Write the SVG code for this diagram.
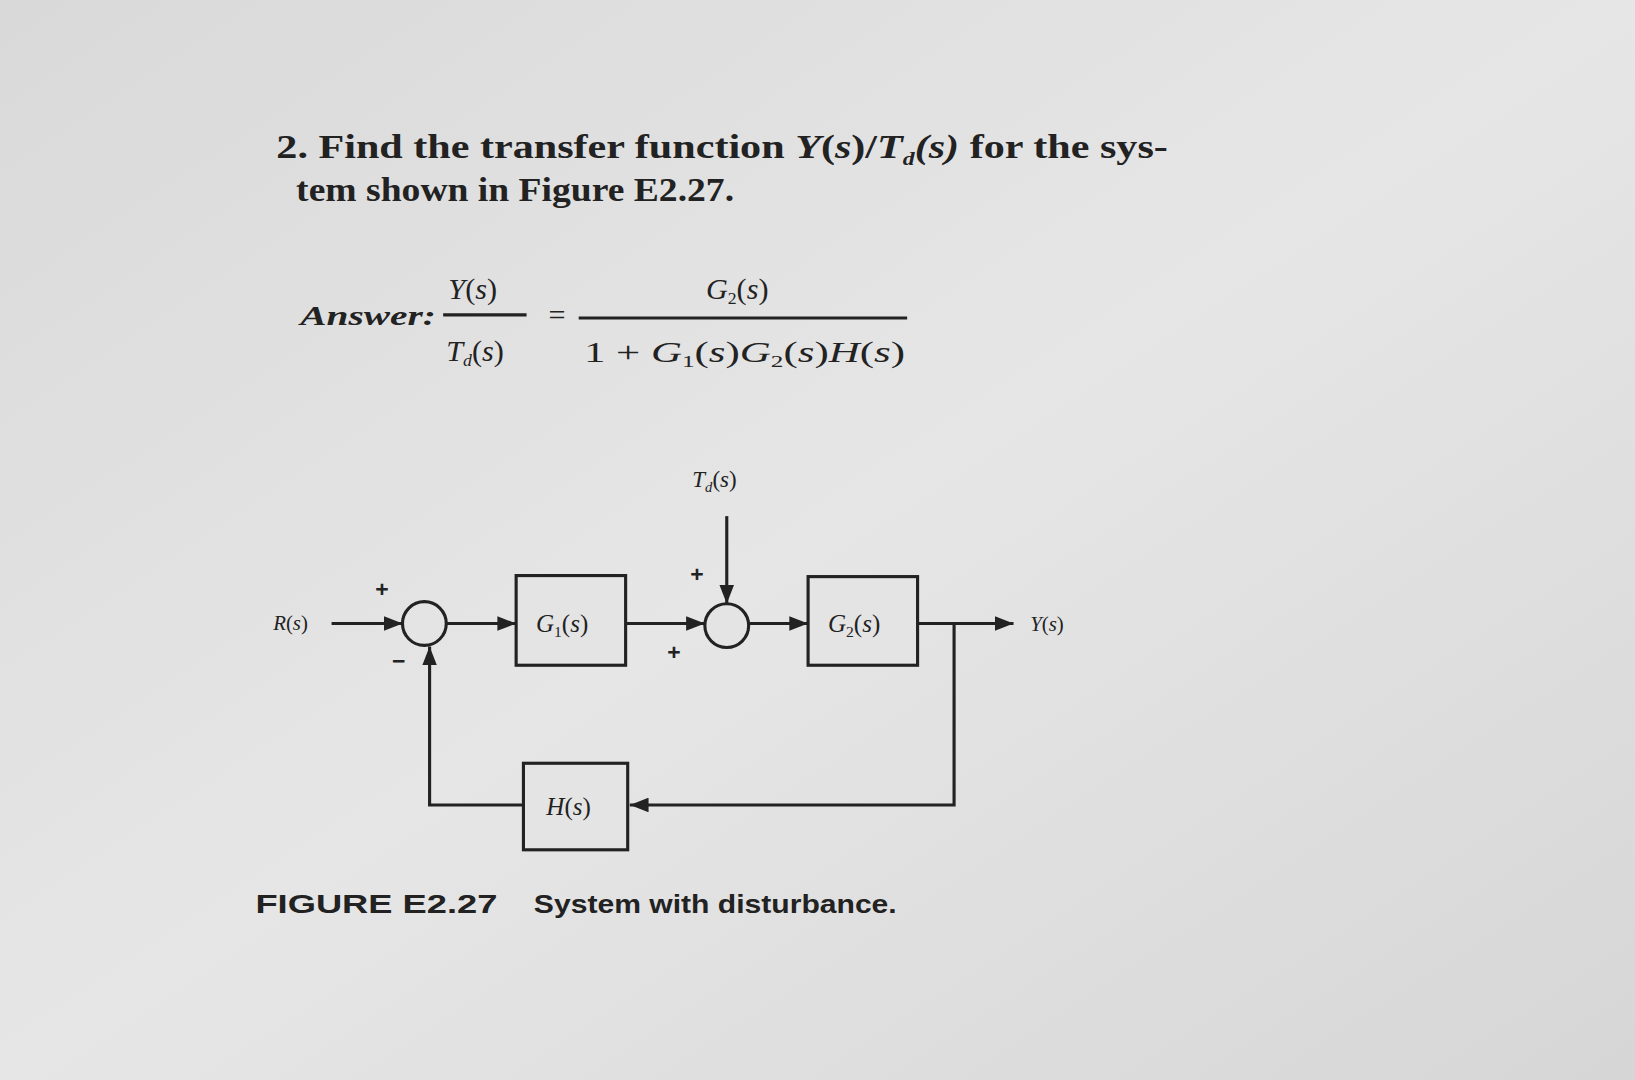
<svg xmlns="http://www.w3.org/2000/svg" width="1635" height="1080" viewBox="0 0 1635 1080">
<defs>
<marker id="ah" viewBox="0 0 10 10" refX="10" refY="5" markerWidth="18" markerHeight="14" markerUnits="userSpaceOnUse" orient="auto" preserveAspectRatio="none"><path d="M0,0 L10,5 L0,10 z" fill="#222"/></marker>
<linearGradient id="bg" x1="0" y1="0" x2="1" y2="1"><stop offset="0" stop-color="#d9d9d9"/><stop offset="0.5" stop-color="#e6e6e6"/><stop offset="1" stop-color="#d6d6d6"/></linearGradient>
</defs>
<style>
.t{font-family:"Liberation Serif",serif;fill:#222}
.s{font-family:"Liberation Sans",sans-serif;fill:#222}
.ln{stroke:#222;stroke-width:3;fill:none}
.bx{stroke:#222;stroke-width:3;fill:#e4e4e4}
</style>
<rect width="1635" height="1080" fill="url(#bg)"/>
<g transform="scale(1.0427)">
<g id="question">
<text class="t" x="265" y="152" font-size="32" font-weight="bold" textLength="855" lengthAdjust="spacingAndGlyphs">2.  Find the transfer function <tspan font-style="italic">Y</tspan>(<tspan font-style="italic">s</tspan>)/<tspan font-style="italic">T<tspan font-size="18" dy="6">d</tspan><tspan dy="-6">(s)</tspan></tspan> for the sys-</text>
<text class="t" x="284" y="193" font-size="32" font-weight="bold" textLength="420" lengthAdjust="spacingAndGlyphs">tem shown in Figure E2.27.</text>
</g>
<g id="answer">
<text class="t" x="288" y="312" font-size="26" font-weight="bold" font-style="italic" textLength="130" lengthAdjust="spacingAndGlyphs">Answer:</text>
<text class="t" x="430" y="287" font-size="29"><tspan font-style="italic">Y</tspan>(<tspan font-style="italic">s</tspan>)</text>
<line class="ln" x1="425" y1="302" x2="505" y2="302" stroke-width="2"/>
<text class="t" x="428" y="346" font-size="29"><tspan font-style="italic">T</tspan><tspan font-size="17" dy="5" font-style="italic">d</tspan><tspan dy="-5">(</tspan><tspan font-style="italic">s</tspan>)</text>
<text class="t" x="526" y="312" font-size="29">=</text>
<text class="t" x="677" y="287" font-size="29"><tspan font-style="italic">G</tspan><tspan font-size="17" dy="5">2</tspan><tspan dy="-5">(</tspan><tspan font-style="italic">s</tspan>)</text>
<line class="ln" x1="555" y1="305" x2="870" y2="305" stroke-width="2"/>
<text class="t" x="560" y="347" font-size="29" textLength="308" lengthAdjust="spacingAndGlyphs">1 + <tspan font-style="italic">G</tspan><tspan font-size="17" dy="5">1</tspan><tspan dy="-5">(</tspan><tspan font-style="italic">s</tspan>)<tspan font-style="italic">G</tspan><tspan font-size="17" dy="5">2</tspan><tspan dy="-5">(</tspan><tspan font-style="italic">s</tspan>)<tspan font-style="italic">H</tspan>(<tspan font-style="italic">s</tspan>)</text>
</g>
<g id="connectors">
<line class="ln" x1="318" y1="598" x2="386" y2="598" marker-end="url(#ah)"/>
<line class="ln" x1="428" y1="598" x2="495" y2="598" marker-end="url(#ah)"/>
<line class="ln" x1="600" y1="598" x2="676" y2="598" marker-end="url(#ah)"/>
<line class="ln" x1="697" y1="495" x2="697" y2="579" marker-end="url(#ah)"/>
<line class="ln" x1="718" y1="598" x2="775" y2="598" marker-end="url(#ah)"/>
<line class="ln" x1="880" y1="598" x2="972" y2="598" marker-end="url(#ah)"/>
<polyline class="ln" points="915,598 915,772 604,772" marker-end="url(#ah)"/>
<polyline class="ln" points="502,772 412,772 412,620" marker-end="url(#ah)"/>
</g>
<g id="sum1"><circle class="bx" cx="407" cy="598" r="21"/>
<text class="s" x="360" y="573" font-size="22" font-weight="bold">+</text><text class="s" x="376" y="642" font-size="22" font-weight="bold">−</text></g>
<g id="sum2"><circle class="bx" cx="697" cy="600" r="21"/>
<text class="s" x="662" y="558" font-size="22" font-weight="bold">+</text><text class="s" x="640" y="633" font-size="22" font-weight="bold">+</text></g>
<g id="G1"><rect class="bx" x="495" y="552" width="105" height="86"/>
<text class="t" x="514" y="606" font-size="24"><tspan font-style="italic">G</tspan><tspan font-size="15" dy="5">1</tspan><tspan dy="-5">(</tspan><tspan font-style="italic">s</tspan>)</text></g>
<g id="G2"><rect class="bx" x="775" y="553" width="105" height="85"/>
<text class="t" x="794" y="606" font-size="24"><tspan font-style="italic">G</tspan><tspan font-size="15" dy="5">2</tspan><tspan dy="-5">(</tspan><tspan font-style="italic">s</tspan>)</text></g>
<g id="H"><rect class="bx" x="502" y="732" width="100" height="83"/>
<text class="t" x="524" y="782" font-size="24"><tspan font-style="italic">H</tspan>(<tspan font-style="italic">s</tspan>)</text></g>
<g id="labels">
<text class="t" x="262" y="604" font-size="20"><tspan font-style="italic">R</tspan>(<tspan font-style="italic">s</tspan>)</text>
<text class="t" x="988" y="605" font-size="20"><tspan font-style="italic">Y</tspan>(<tspan font-style="italic">s</tspan>)</text>
<text class="t" x="664" y="467" font-size="22"><tspan font-style="italic">T</tspan><tspan font-size="14" dy="5" font-style="italic">d</tspan><tspan dy="-5">(</tspan><tspan font-style="italic">s</tspan>)</text>
</g>
<g id="caption">
<text class="s" x="245" y="876" font-size="25" font-weight="bold" textLength="232" lengthAdjust="spacingAndGlyphs">FIGURE E2.27</text>
<text class="s" x="512" y="876" font-size="25" font-weight="bold" textLength="348" lengthAdjust="spacingAndGlyphs">System with disturbance.</text>
</g>
</g>
</svg>
